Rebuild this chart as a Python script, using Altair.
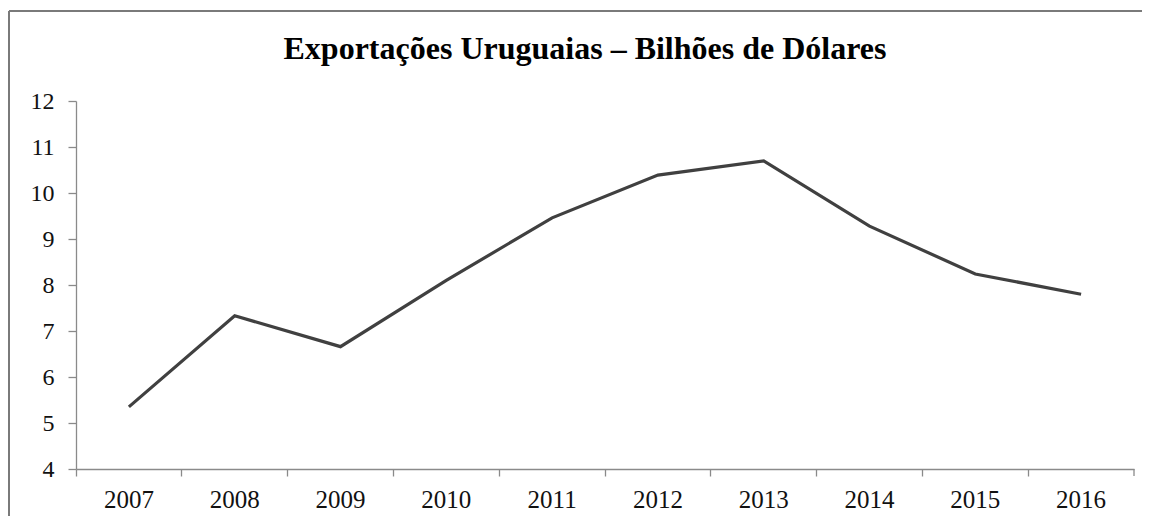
import altair as alt
import pandas as pd

years = ["2007", "2008", "2009", "2010", "2011", "2012", "2013", "2014", "2015", "2016"]
exports = [5.35, 7.33, 6.66, 8.1, 9.46, 10.39, 10.70, 9.28, 8.24, 7.80]
y_ticks = [4, 5, 6, 7, 8, 9, 10, 11, 12]
title_text = "Exportações Uruguaias – Bilhões de Dólares"

df = pd.DataFrame({"year": years, "value": exports})
title_df = pd.DataFrame({"t": [title_text]})

W, H = 1058, 368
FONT = "Liberation Serif"
AX = "#8a8a8a"

x_enc = alt.X(
    "year:O",
    sort=years,
    scale=alt.Scale(paddingInner=0, paddingOuter=0),
    axis=alt.Axis(
        title=None, labelAngle=0, bandPosition=0,
        labelFont=FONT, labelFontSize=25, labelColor="#111111",
        domainColor=AX, tickColor=AX, tickSize=7,
        domainWidth=1.3, tickWidth=1.3, labelPadding=11, grid=False,
    ),
)
y_enc = alt.Y(
    "value:Q",
    scale=alt.Scale(domain=[4, 12], nice=False, zero=False),
    axis=alt.Axis(
        title=None, values=y_ticks, labelFont=FONT, labelFontSize=24,
        labelColor="#111111", domainColor=AX, tickColor=AX,
        tickSize=8, domainWidth=1.3, tickWidth=1.3, labelPadding=14, grid=False,
    ),
)

line = alt.Chart(df).mark_line(color="#404040", strokeWidth=3.2).encode(x=x_enc, y=y_enc)

end_tick = alt.Chart(df[df.year == years[-1]]).mark_rule(
    color=AX, strokeWidth=1.3
).encode(
    x=alt.X("year:O", sort=years, bandPosition=1),
    y=alt.value(H), y2=alt.value(H + 7),
)

title_mark = alt.Chart(title_df).mark_text(
    font=FONT, fontSize=32, fontWeight="bold", color="#000000",
    align="center", baseline="alphabetic",
).encode(text="t:N", x=alt.value(509), y=alt.value(-42))

frame_left = alt.Chart(title_df).mark_rule(color="#7a7a7a", strokeWidth=2).encode(
    x=alt.value(-67), y=alt.value(-90), y2=alt.value(H + 80)
)
frame_top = alt.Chart(title_df).mark_rule(color="#7a7a7a", strokeWidth=2).encode(
    x=alt.value(-67), x2=alt.value(W + 60), y=alt.value(-90)
)

chart = alt.layer(line, end_tick, title_mark, frame_left, frame_top).properties(
    width=W, height=H,
    background="white",
    view=alt.ViewBackground(stroke="transparent", strokeWidth=0),
    autosize=alt.AutoSizeParams(type="none"),
    padding={"left": 68, "top": 93, "right": 8, "bottom": 47},
).configure_view(stroke="transparent", strokeWidth=0)

chart.save("out.html", embed_options={"renderer": "svg", "actions": False})
